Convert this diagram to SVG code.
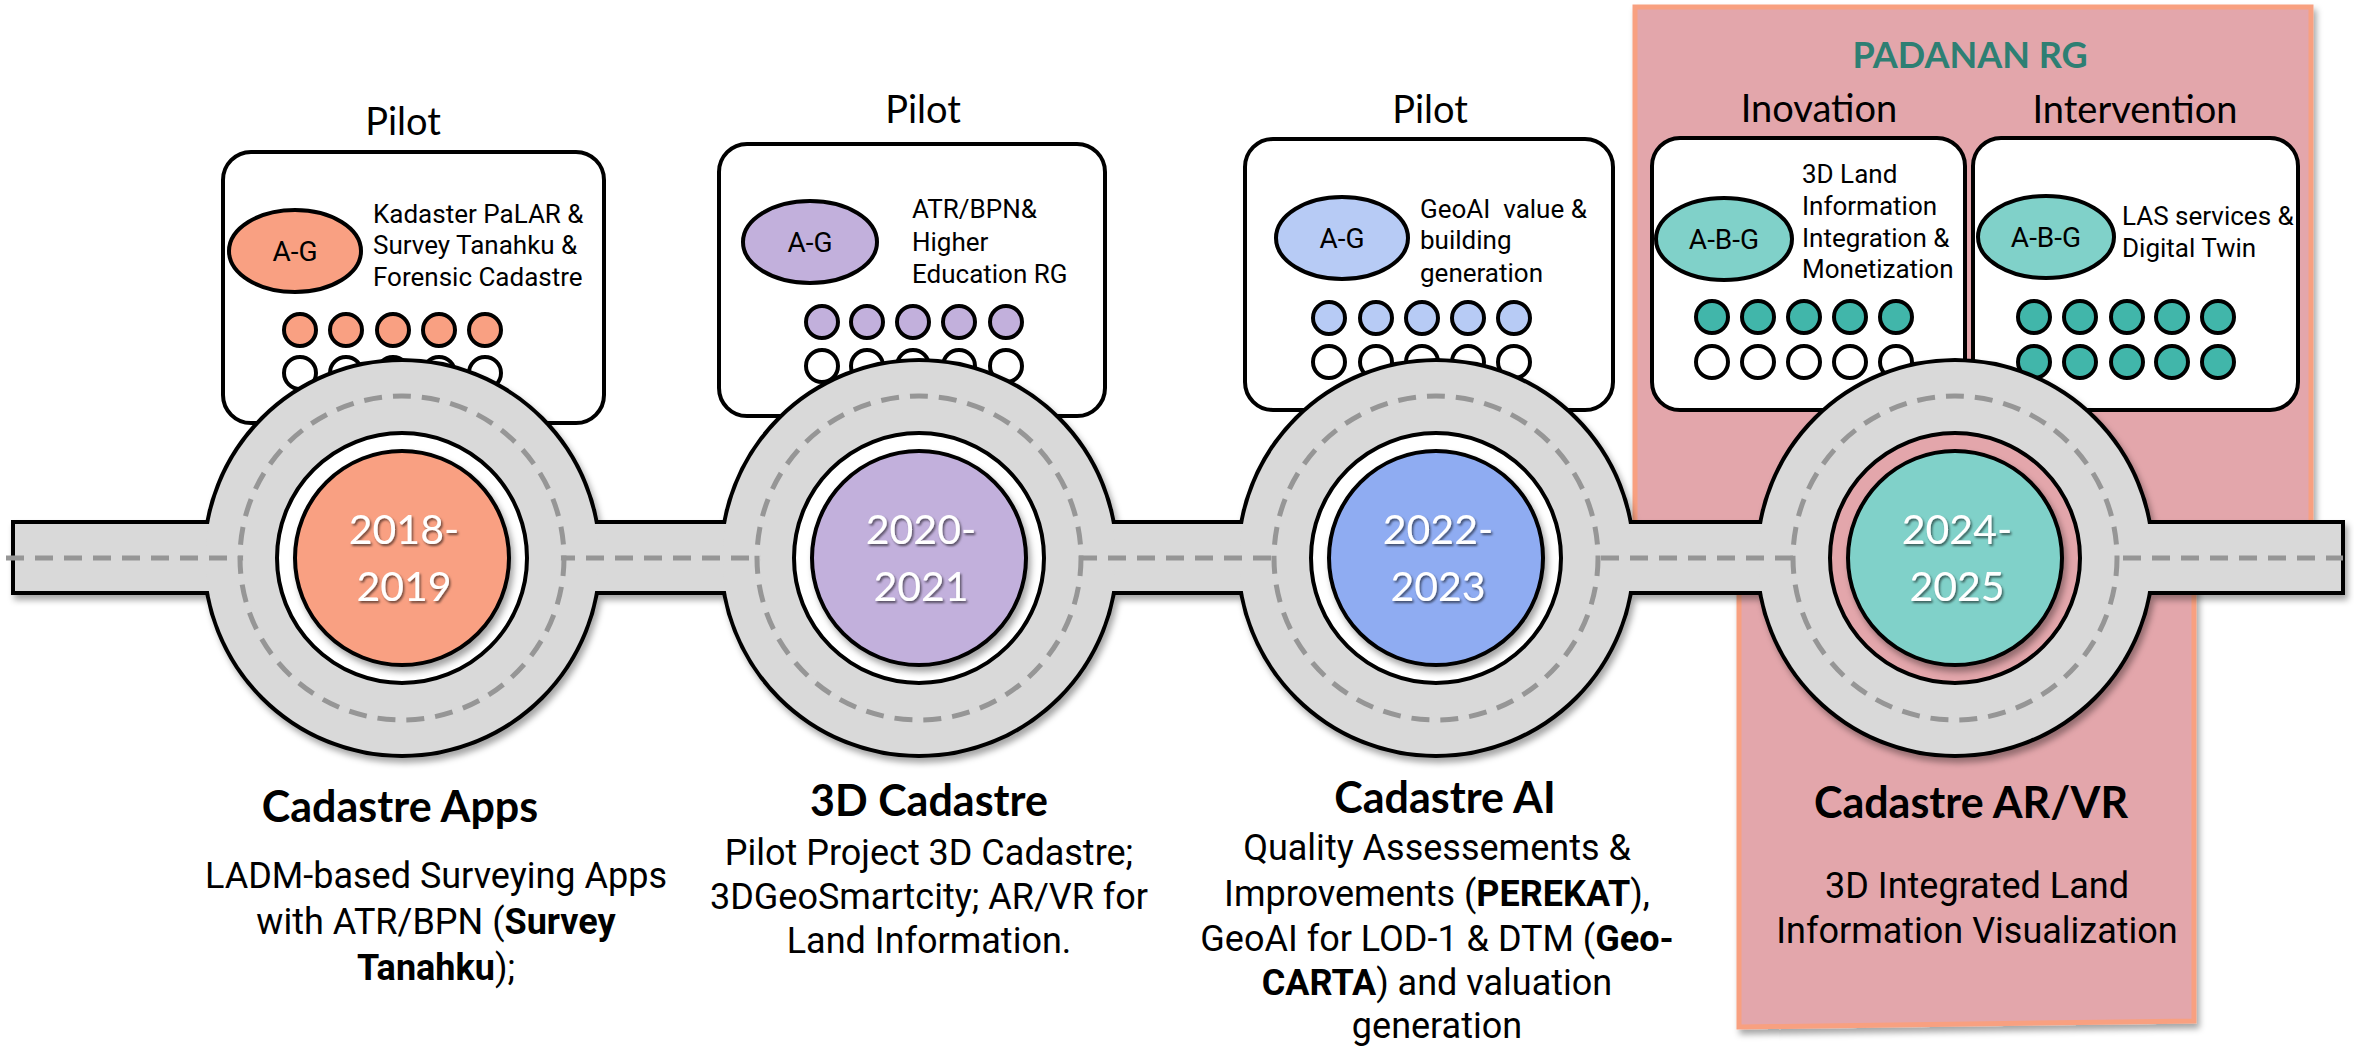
<svg xmlns="http://www.w3.org/2000/svg" width="2354" height="1049" viewBox="0 0 2354 1049">
<defs>
<style>
.box{fill:#fff;stroke:#000;stroke-width:4}
.pilot{font-family:Lato,"Liberation Sans",sans-serif;font-size:38px;text-anchor:middle;fill:#000}
.bt{font-family:Roboto,"Liberation Sans",sans-serif;font-size:26px;fill:#000}
.ab{font-family:Roboto,"Liberation Sans",sans-serif;font-size:28px;fill:#000;text-anchor:middle}
.ol{stroke:#000;stroke-width:4}
.title{font-family:Lato,"Liberation Sans",sans-serif;font-weight:700;font-size:43px;text-anchor:middle;fill:#000}
.body{font-family:Roboto,"Liberation Sans",sans-serif;font-size:36px;text-anchor:middle;fill:#000}
.year{font-family:Lato,"Liberation Sans",sans-serif;font-size:41px;fill:#fff;text-anchor:middle}
.dash{fill:none;stroke:#969696;stroke-width:5;stroke-dasharray:18 11}
.road{fill:#D9D9D9}
.c1{fill:#F9A082}.c2{fill:#C2B0DC}.c3{fill:#B7CBF5}.c4{fill:#80D1C9}.c4d{fill:#41B6AA}.w{fill:#fff}
</style>
<filter id="sh" x="-20%" y="-20%" width="140%" height="140%">
<feDropShadow dx="3" dy="5" stdDeviation="3" flood-color="#000" flood-opacity="0.35"/>
</filter>
<filter id="tsh" x="-20%" y="-20%" width="140%" height="140%">
<feDropShadow dx="1.5" dy="2" stdDeviation="1" flood-color="#000" flood-opacity="0.55"/>
</filter>
</defs>
<rect width="2354" height="1049" fill="#fff"/>

<g id="padanan">
<path d="M1635,7 H2311 V560 H2194 V1021 L1739,1027 V560 H1635 Z" fill="#E3A6AB" stroke="#F8A080" stroke-width="5" filter="url(#sh)"/>
<text x="1970" y="68" font-family="Lato,'Liberation Sans',sans-serif" font-weight="700" font-size="36" fill="#2E7F73" text-anchor="middle">PADANAN RG</text>
<text class="pilot" x="1819" y="122">Inovation</text>
<text class="pilot" x="2135" y="123">Intervention</text>
</g>

<g id="pilot2018">
<text class="pilot" x="403" y="135">Pilot</text>
<rect class="box" x="223" y="152" width="381" height="271" rx="28"/>
<ellipse class="c1 ol" cx="295" cy="251" rx="66" ry="41"/>
<text class="ab" x="295" y="261">A-G</text>
<text class="bt" x="373" y="223">Kadaster PaLAR &amp;</text>
<text class="bt" x="373" y="254">Survey Tanahku &amp;</text>
<text class="bt" x="373" y="286">Forensic Cadastre</text>
<g class="c1 ol"><circle cx="300" cy="330" r="16"/><circle cx="346" cy="330" r="16"/><circle cx="393" cy="330" r="16"/><circle cx="439" cy="330" r="16"/><circle cx="485" cy="330" r="16"/></g>
<g class="w ol"><circle cx="300" cy="373" r="16"/><circle cx="346" cy="373" r="16"/><circle cx="393" cy="373" r="16"/><circle cx="439" cy="373" r="16"/><circle cx="485" cy="373" r="16"/></g>
</g>

<g id="pilot2020">
<text class="pilot" x="923" y="123">Pilot</text>
<rect class="box" x="719" y="144" width="386" height="272" rx="28"/>
<ellipse class="c2 ol" cx="810" cy="242" rx="67" ry="41"/>
<text class="ab" x="810" y="252">A-G</text>
<text class="bt" x="912" y="218">ATR/BPN&amp;</text>
<text class="bt" x="912" y="251">Higher</text>
<text class="bt" x="912" y="283">Education RG</text>
<g class="c2 ol"><circle cx="822" cy="322" r="16"/><circle cx="867" cy="322" r="16"/><circle cx="913" cy="322" r="16"/><circle cx="959" cy="322" r="16"/><circle cx="1006" cy="322" r="16"/></g>
<g class="w ol"><circle cx="822" cy="366" r="16"/><circle cx="867" cy="366" r="16"/><circle cx="913" cy="366" r="16"/><circle cx="959" cy="366" r="16"/><circle cx="1006" cy="366" r="16"/></g>
</g>

<g id="pilot2022">
<text class="pilot" x="1430" y="123">Pilot</text>
<rect class="box" x="1245" y="139" width="368" height="271" rx="28"/>
<ellipse class="c3 ol" cx="1342" cy="238" rx="66" ry="41"/>
<text class="ab" x="1342" y="248">A-G</text>
<text class="bt" x="1420" y="218" xml:space="preserve">GeoAI  value &amp;</text>
<text class="bt" x="1420" y="249">building</text>
<text class="bt" x="1420" y="282">generation</text>
<g class="c3 ol"><circle cx="1329" cy="318" r="16"/><circle cx="1376" cy="318" r="16"/><circle cx="1422" cy="318" r="16"/><circle cx="1468" cy="318" r="16"/><circle cx="1514" cy="318" r="16"/></g>
<g class="w ol"><circle cx="1329" cy="362" r="16"/><circle cx="1376" cy="362" r="16"/><circle cx="1422" cy="362" r="16"/><circle cx="1468" cy="362" r="16"/><circle cx="1514" cy="362" r="16"/></g>
</g>

<g id="inovation">
<rect class="box" x="1652" y="138" width="313" height="272" rx="28"/>
<ellipse class="c4 ol" cx="1724" cy="239" rx="68" ry="41"/>
<text class="ab" x="1724" y="249">A-B-G</text>
<text class="bt" x="1802" y="183">3D Land</text>
<text class="bt" x="1802" y="215">Information</text>
<text class="bt" x="1802" y="247">Integration &amp;</text>
<text class="bt" x="1802" y="278">Monetization</text>
<g class="c4d ol"><circle cx="1712" cy="317" r="16"/><circle cx="1758" cy="317" r="16"/><circle cx="1804" cy="317" r="16"/><circle cx="1850" cy="317" r="16"/><circle cx="1896" cy="317" r="16"/></g>
<g class="w ol"><circle cx="1712" cy="362" r="16"/><circle cx="1758" cy="362" r="16"/><circle cx="1804" cy="362" r="16"/><circle cx="1850" cy="362" r="16"/><circle cx="1896" cy="362" r="16"/></g>
</g>

<g id="intervention">
<rect class="box" x="1973" y="138" width="325" height="272" rx="28"/>
<ellipse class="c4 ol" cx="2046" cy="237" rx="68" ry="41"/>
<text class="ab" x="2046" y="247">A-B-G</text>
<text class="bt" x="2122" y="225">LAS services &amp;</text>
<text class="bt" x="2122" y="257">Digital Twin</text>
<g class="c4d ol"><circle cx="2034" cy="317" r="16"/><circle cx="2080" cy="317" r="16"/><circle cx="2127" cy="317" r="16"/><circle cx="2172" cy="317" r="16"/><circle cx="2218" cy="317" r="16"/></g>
<g class="c4d ol"><circle cx="2034" cy="362" r="16"/><circle cx="2080" cy="362" r="16"/><circle cx="2127" cy="362" r="16"/><circle cx="2172" cy="362" r="16"/><circle cx="2218" cy="362" r="16"/></g>
</g>

<g id="connectors">
<g filter="url(#sh)" stroke="#000" stroke-width="8" class="road">
<rect x="15" y="524" width="2326" height="67"/>
<circle cx="402" cy="558" r="196"/>
<circle cx="919" cy="558" r="196"/>
<circle cx="1436" cy="558" r="196"/>
<circle cx="1955" cy="558" r="196"/>
</g>
<g class="road">
<rect x="15" y="524" width="2326" height="67"/>
<circle cx="402" cy="558" r="196"/>
<circle cx="919" cy="558" r="196"/>
<circle cx="1436" cy="558" r="196"/>
<circle cx="1955" cy="558" r="196"/>
</g>
<line class="dash" x1="6" y1="558" x2="2343" y2="558"/>
<g class="road">
<circle cx="402" cy="558" r="159"/>
<circle cx="919" cy="558" r="159"/>
<circle cx="1436" cy="558" r="159"/>
<circle cx="1955" cy="558" r="159"/>
</g>
<g class="dash">
<circle cx="402" cy="558" r="162"/>
<circle cx="919" cy="558" r="162"/>
<circle cx="1436" cy="558" r="162"/>
<circle cx="1955" cy="558" r="162"/>
</g>
</g>

<g id="y2018">
<circle cx="402" cy="558" r="125" fill="#fff" class="ol"/>
<circle cx="402" cy="558" r="107" class="c1 ol" filter="url(#sh)"/>
<g class="year" filter="url(#tsh)"><text x="404" y="544">2018-</text><text x="404" y="601">2019</text></g>
</g>
<g id="y2020">
<circle cx="919" cy="558" r="125" fill="#fff" class="ol"/>
<circle cx="919" cy="558" r="107" class="c2 ol" filter="url(#sh)"/>
<g class="year" filter="url(#tsh)"><text x="921" y="544">2020-</text><text x="921" y="601">2021</text></g>
</g>
<g id="y2022">
<circle cx="1436" cy="558" r="125" fill="#fff" class="ol"/>
<circle cx="1436" cy="558" r="107" fill="#8FACF2" class="ol" filter="url(#sh)"/>
<g class="year" filter="url(#tsh)"><text x="1438" y="544">2022-</text><text x="1438" y="601">2023</text></g>
</g>
<g id="y2024">
<circle cx="1955" cy="558" r="125" fill="#E3A6AB" class="ol"/>
<circle cx="1955" cy="558" r="107" class="c4 ol" filter="url(#sh)"/>
<g class="year" filter="url(#tsh)"><text x="1957" y="544">2024-</text><text x="1957" y="601">2025</text></g>
</g>

<g id="apps">
<text class="title" x="400" y="822">Cadastre Apps</text>
<text class="body" x="436" y="888">LADM-based Surveying Apps</text>
<text class="body" x="436" y="934">with ATR/BPN (<tspan font-weight="700">Survey</tspan></text>
<text class="body" x="436" y="980"><tspan font-weight="700">Tanahku</tspan>);</text>
</g>
<g id="cad3d">
<text class="title" x="929" y="816">3D Cadastre</text>
<text class="body" x="929" y="865">Pilot Project 3D Cadastre;</text>
<text class="body" x="929" y="909">3DGeoSmartcity; AR/VR for</text>
<text class="body" x="929" y="953">Land Information.</text>
</g>
<g id="cadai">
<text class="title" x="1445" y="813">Cadastre AI</text>
<text class="body" x="1437" y="860">Quality Assessements &amp;</text>
<text class="body" x="1437" y="906">Improvements (<tspan font-weight="700">PEREKAT</tspan>),</text>
<text class="body" x="1437" y="951">GeoAI for LOD-1 &amp; DTM (<tspan font-weight="700">Geo-</tspan></text>
<text class="body" x="1437" y="995"><tspan font-weight="700">CARTA</tspan>) and valuation</text>
<text class="body" x="1437" y="1038">generation</text>
</g>
<g id="cadarvr">
<text class="title" x="1971" y="818">Cadastre AR/VR</text>
<text class="body" x="1977" y="898">3D Integrated Land</text>
<text class="body" x="1977" y="943">Information Visualization</text>
</g>
</svg>
